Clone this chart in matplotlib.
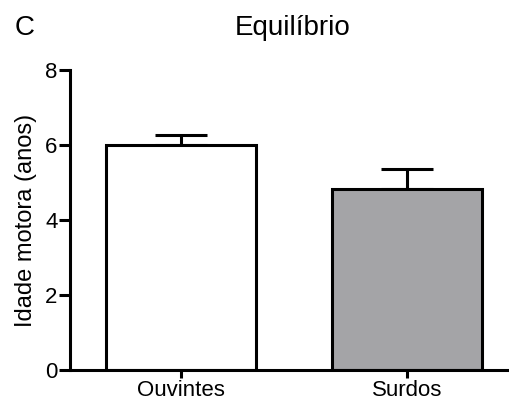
import matplotlib
matplotlib.use("Agg")
import matplotlib.pyplot as plt

groups = ["Ouvintes", "Surdos"]
means = [6.0, 4.83]
errors = [0.26, 0.54]
colors = ["white", "#a4a4a7"]

plt.rcParams['font.family'] = ['Liberation Sans', 'DejaVu Sans']

fig = plt.figure(figsize=(5.09, 4.01), dpi=100)
ax = fig.add_axes([70 / 509, 31 / 401, 439 / 509, 300 / 401])

lw = 2.2
x = list(range(len(groups)))
ax.bar(x, means, width=0.665, color=colors, edgecolor="black", linewidth=lw, zorder=2)
ax.errorbar(x, means, yerr=[[0] * len(errors), errors], fmt="none", ecolor="black",
            elinewidth=lw, capsize=19, capthick=lw, zorder=1)

ax.set_xlim(-0.492, 1.453)
ax.set_ylim(0, 8)
ax.set_yticks([0, 2, 4, 6, 8])
ax.set_xticks(x)
ax.set_xticklabels(groups)
ax.tick_params(axis="y", length=8, width=lw, labelsize=16, pad=1)
ax.tick_params(axis="x", length=6, width=lw, labelsize=16, pad=1)

for side in ["top", "right"]:
    ax.spines[side].set_visible(False)
for side in ["left", "bottom"]:
    ax.spines[side].set_linewidth(lw)
ax.spines["bottom"].set_capstyle("butt")

ax.set_ylabel("Idade motora (anos)", fontsize=17, labelpad=6)
fig.text(293 / 509, 1 - 28 / 401, "Equilíbrio", fontsize=20, ha="center", va="center")
fig.text(15 / 509, 1 - 28 / 401, "C", fontsize=20, ha="left", va="center")

fig.savefig("out.png", dpi=100)
